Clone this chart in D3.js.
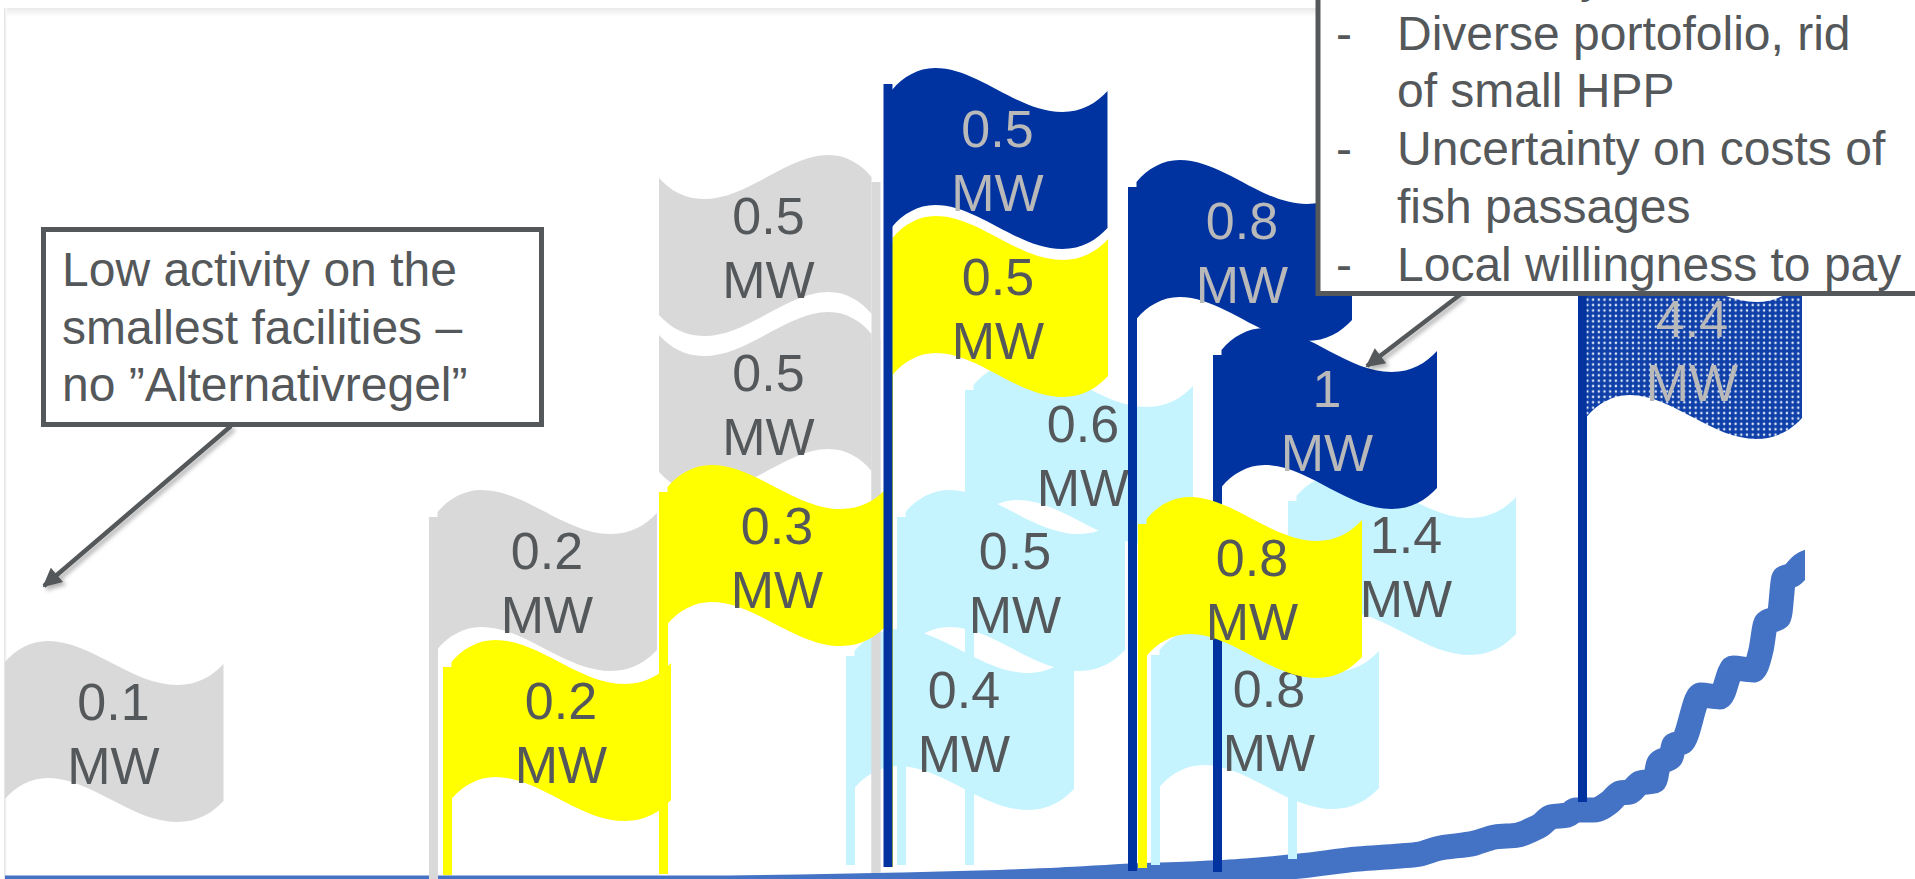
<!DOCTYPE html>
<html>
<head>
<meta charset="utf-8">
<script src="https://cdn.jsdelivr.net/npm/d3@7"></script>
<style>
  html, body { margin: 0; background: #fff; overflow: hidden; }
  text { font-family: "Liberation Sans", Arial, sans-serif; }
</style>
</head>
<body>
<svg id="chart"></svg>
<script>
// flags, in drawing order (back to front)
const flagMW = [0.6, 0.5, 0.4, 1.4, 0.8, 0.1, 0.2, 0.5, 0.5, 0.2, 0.3, 0.5, 0.5, 0.8, 1, 4.4, 0.8];
const flagGroup = ["light", "light", "light", "light", "light", "grey", "grey", "grey", "grey",
  "yellow", "yellow", "yellow", "blue", "blue", "blue", "dots", "yellow"];
const flagFlip = [0, 0, 0, 0, 0, 0, 0, 1, 1, 0, 0, 0, 0, 0, 0, 0, 0];
const flagRank = [96.5, 89.7, 84.6, 128.8, 115.1, -0.45, 42.9, 87.15, 87.15, 44.3, 65.9, 88.4, 88.35, 112.8, 121.3, 157.8, 113.8];
const flagTop = [52.3, 39.6, 25.7, 41.2, 25.8, 24.5, 39.6, 73.1, 57.4, 24.6, 42.1, 67.0, 81.8, 72.6, 55.8, 62.8, 38.9];
const flagBase = [2.1, 2.1, 2.1, 2.7, 2.1, 0, 0, 1.3, 1.3, 1.1, 1.2, 1.9, 1.9, 1.5, 1.4, 8.4, 1.8];

// cumulative curve
const curveRank = [0.5, 70, 80, 90, 97.8, 106, 113.2, 119, 124.6, 130, 135.8, 140, 142, 143.6, 147.5, 149.5,
  151.8, 153.1, 154.1, 155.1, 156.75, 157.6, 159.4, 161, 162, 163, 164, 165.45, 165.9, 167.1, 167.4, 168.25,
  170.05, 172, 173.3, 175.3, 176.1, 176.6, 177.9, 178.4, 179.2, 180.2, 181.5];
const curveValue = [-0.2, -0.2, -0.1, 0.1, 0.3, 0.6, 1.0, 1.2, 1.5, 2.0, 2.7, 3.0, 3.2, 3.7, 4.3, 4.9,
  5.1, 5.6, 6.1, 6.9, 7.1, 7.6, 7.6, 8.4, 9.3, 9.4, 10.3, 10.5, 12.3, 12.9, 14.1, 14.4,
  19.1, 18.9, 21.8, 21.6, 23.6, 26.3, 26.9, 30.8, 31.1, 32.1, 32.6];

// callouts
const noteLeft = ["Low activity on the", "smallest facilities \u2013", "no \u201DAlternativregel\u201D"];
const noteRight = ["Diverse portofolio, rid", "of small HPP", "Uncertainty on costs of", "fish passages", "Local willingness to pay"];
const noteRightDash = [1, 0, 1, 0, 1];

const width = 1915;
const height = 879;
const ink = "#54585a";

const fills = { light: "#c5f4ff", grey: "#d9d9d9", yellow: "#ffff00", blue: "#0033a0", dots: "url(#dots)" };
const textFill = { light: "#54585a", grey: "#54585a", yellow: "#54585a", blue: "#b9b9b9", dots: "#b9b9b9" };

const svg = d3.select("#chart").attr("width", width).attr("height", height);
const defs = svg.append("defs");

const x = d3.scaleLinear().domain([0, 191.5]).range([0, width]);
const y = d3.scaleLinear().domain([0, 88.6]).range([886, 0]);

// white dots on the 4.4 MW flag
const dots = defs.append("pattern").attr("id", "dots").attr("patternUnits", "userSpaceOnUse")
  .attr("width", 5.7).attr("height", 5.4);
dots.append("rect").attr("width", 5.7).attr("height", 5.4).attr("fill", "#0f3fa8");
dots.append("circle").attr("cx", 2.8).attr("cy", 2.7).attr("r", 1.25).attr("fill", "#dfe8f8");

defs.append("clipPath").attr("id", "plot").append("rect")
  .attr("x", 5).attr("y", 0).attr("width", 1800).attr("height", height);
defs.append("clipPath").attr("id", "frame").append("rect")
  .attr("x", 5).attr("y", 0).attr("width", width).attr("height", height);

const fadeTop = defs.append("linearGradient").attr("id", "fadeTop").attr("x2", 0).attr("y2", 1);
fadeTop.append("stop").attr("offset", 0).attr("stop-color", "#eaeaea");
fadeTop.append("stop").attr("offset", 1).attr("stop-color", "#fff");
const fadeLeft = defs.append("linearGradient").attr("id", "fadeLeft");
fadeLeft.append("stop").attr("offset", 0).attr("stop-color", "#e2e2e2");
fadeLeft.append("stop").attr("offset", 1).attr("stop-color", "#fff");

const shadow = defs.append("filter").attr("id", "shadow")
  .attr("x", "-20%").attr("y", "-20%").attr("width", "140%").attr("height", "140%");
shadow.append("feDropShadow").attr("dx", 3).attr("dy", 3).attr("stdDeviation", 2)
  .attr("flood-color", "#000").attr("flood-opacity", 0.3);

defs.append("marker").attr("id", "head").attr("viewBox", "0 0 10 10").attr("refX", 9).attr("refY", 5)
  .attr("markerWidth", 5).attr("markerHeight", 4.2).attr("orient", "auto")
  .append("path").attr("d", "M0,0 L10,5 L0,10 Z").attr("fill", ink);

// page edge
svg.append("rect").attr("x", 4).attr("y", 8).attr("width", 1320).attr("height", 9).attr("fill", "url(#fadeTop)");
svg.append("rect").attr("x", 4).attr("y", 8).attr("width", 3).attr("height", height).attr("fill", "url(#fadeLeft)");

// curve
svg.append("path")
  .datum(d3.zip(curveRank, curveValue))
  .attr("clip-path", "url(#plot)")
  .attr("fill", "none")
  .attr("stroke", "#4472c4")
  .attr("stroke-width", 25)
  .attr("stroke-linejoin", "round")
  .attr("stroke-linecap", "square")
  .attr("d", d3.line().x(d => x(d[0])).y(d => y(d[1])).curve(d3.curveMonotoneX));

// flag cloth: wave runs over the span, then back along the lower edge
function cloth(x0, top, span, flip) {
  const h = 137;
  const px = u => flip ? x0 - u * span : x0 + 8.5 + u * span;
  const p = d3.path();
  p.moveTo(px(0), top + 22);
  p.bezierCurveTo(px(0.05), top + 9, px(0.12), top, px(0.2), top);
  p.bezierCurveTo(px(0.4), top, px(0.58), top + 44, px(0.79), top + 44);
  p.bezierCurveTo(px(0.88), top + 44, px(0.95), top + 35, px(1), top + 23);
  p.lineTo(px(1), top + 23 + h);
  p.bezierCurveTo(px(0.95), top + 35 + h, px(0.88), top + 44 + h, px(0.79), top + 44 + h);
  p.bezierCurveTo(px(0.58), top + 44 + h, px(0.4), top + h, px(0.2), top + h);
  p.bezierCurveTo(px(0.12), top + h, px(0.05), top + 9 + h, px(0), top + 22 + h);
  p.closePath();
  return p.toString();
}

const flags = d3.range(flagMW.length).map(i => ({
  mw: flagMW[i], group: flagGroup[i], flip: flagFlip[i] === 1,
  x0: x(flagRank[i]), top: y(flagTop[i]), base: y(flagBase[i]),
  span: flagFlip[i] === 1 ? 212.5 : (i >= 11 ? 215.5 : 219.5),
  stub: i === 12 ? 16 : 27
}));

const flag = svg.append("g").attr("clip-path", "url(#frame)")
  .selectAll("g").data(flags).enter().append("g");

flag.append("rect")
  .attr("x", d => d.x0)
  .attr("y", d => d.top + d.stub)
  .attr("width", 9)
  .attr("height", d => d.base - d.top - d.stub)
  .attr("fill", d => d.group === "dots" ? fills.blue : fills[d.group]);

flag.append("path")
  .attr("d", d => cloth(d.x0, d.top, d.span, d.flip))
  .attr("fill", d => fills[d.group]);

const labelX = d => (d.flip ? d.x0 + 7 : d.x0 + 8.5 + d.span) - 110;

flag.append("text")
  .attr("x", labelX).attr("y", d => d.top + 79)
  .attr("text-anchor", "middle").attr("font-size", 52)
  .attr("fill", d => textFill[d.group])
  .text(d => d.mw);

flag.append("text")
  .attr("x", labelX).attr("y", d => d.top + 143)
  .attr("text-anchor", "middle").attr("font-size", 52)
  .attr("fill", d => textFill[d.group])
  .text("MW");

// left callout
svg.append("line")
  .attr("x1", 231).attr("y1", 426).attr("x2", 44).attr("y2", 586)
  .attr("stroke", ink).attr("stroke-width", 4.5)
  .attr("marker-end", "url(#head)").attr("filter", "url(#shadow)");
svg.append("rect")
  .attr("x", 43.5).attr("y", 229.5).attr("width", 498).attr("height", 195)
  .attr("fill", "#fff").attr("stroke", ink).attr("stroke-width", 5);
svg.append("g").selectAll("text").data(noteLeft).enter().append("text")
  .attr("x", 62).attr("y", (d, i) => 286 + i * 57.5)
  .attr("font-size", 48).attr("fill", ink).text(d => d);

// right callout, runs off the top and right of the picture
svg.append("line")
  .attr("x1", 1461).attr("y1", 294).attr("x2", 1367).attr("y2", 366)
  .attr("stroke", ink).attr("stroke-width", 4.5)
  .attr("marker-end", "url(#head)").attr("filter", "url(#shadow)");
svg.append("rect")
  .attr("x", 1318).attr("y", -40).attr("width", 660).attr("height", 333.5)
  .attr("fill", "#fff").attr("stroke", ink).attr("stroke-width", 5);
svg.append("text").attr("x", 1580).attr("y", -8.5)
  .attr("font-size", 48).attr("fill", ink).text("y");
const note = svg.append("g").selectAll("g").data(noteRight).enter().append("g");
note.append("text")
  .attr("x", 1397).attr("y", (d, i) => 49.5 + i * 57.75)
  .attr("font-size", 48).attr("fill", ink).text(d => d);
note.filter((d, i) => noteRightDash[i] === 1).append("text")
  .attr("x", 1336).attr("y", d => 49.5 + noteRight.indexOf(d) * 57.75)
  .attr("font-size", 48).attr("fill", ink).text("-");
</script>
</body>
</html>
